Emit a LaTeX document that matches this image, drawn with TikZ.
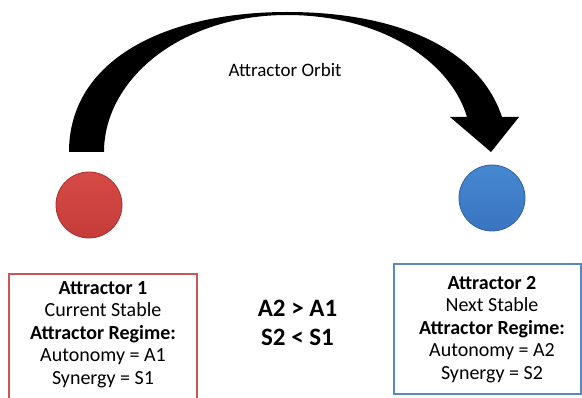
\documentclass[tikz,border=0pt]{standalone}
\usepackage{fontspec}
\setmainfont{Carlito}
\usetikzlibrary{positioning}

\definecolor{ballredtop}{RGB}{214,74,70}
\definecolor{ballredbot}{RGB}{196,60,57}
\definecolor{ballredrim}{RGB}{170,48,46}
\definecolor{ballbluetop}{RGB}{70,136,210}
\definecolor{ballbluebot}{RGB}{58,116,192}
\definecolor{ballbluerim}{RGB}{46,96,164}
\definecolor{boxred}{RGB}{200,88,85}
\definecolor{boxblue}{RGB}{90,136,196}

\begin{document}
\begin{tikzpicture}[x=1pt, y=-1pt,
    ball/.style={circle, minimum size=66pt, inner sep=0pt, line width=0.8pt},
    regimebox/.style={draw, line width=2pt, anchor=north, inner sep=0pt},
    regimetext/.style={align=center, anchor=base, inner sep=0pt, font=\fontsize{20}{22.5}\selectfont},
    compare/.style={align=center, anchor=base, inner sep=0pt, font=\bfseries\fontsize{25}{29}\selectfont}]
    \useasboundingbox (0,0) rectangle (582,398);

    % the orbit arrow
    \fill[black] (69,152) .. controls (69,60) and (165,12) .. (287,12)
        .. controls (400,12) and (480,50) .. (502,117) -- (519,117) -- (491,152)
        -- (450,117) -- (467,117) .. controls (450,60) and (380,15) .. (287,15)
        .. controls (180,15) and (104,80) .. (104,152) -- cycle;
    \node[anchor=base, inner sep=0pt, font=\fontsize{19}{22}\selectfont] (orbit) at (285,77) {Attractor Orbit};

    % the two attractors
    \node[ball, top color=ballredtop, bottom color=ballredbot, draw=ballredrim] (red) at (89,205) {};
    \node[ball, top color=ballbluetop, bottom color=ballbluebot, draw=ballbluerim] (blue) at (492,198) {};

    % regimes (base = last line)
    \node[regimebox, draw=boxred, minimum width=188pt, minimum height=140pt] (box1) at (103,273) {};
    \node[regimetext] (text1) at (103,384.5) {\textbf{Attractor 1}\\Current Stable\\\textbf{Attractor Regime:}\\Autonomy = A1\\Synergy = S1};

    \node[regimebox, draw=boxblue, minimum width=187pt, minimum height=130pt] (box2) at (487.5,263) {};
    \node[regimetext] (text2) at (492,379.5) {\textbf{Attractor 2}\\Next Stable\\\textbf{Attractor Regime:}\\Autonomy = A2\\Synergy = S2};

    \node[compare] (cmp) at (297.5,346) {A2 > A1\\S2 < S1};
\end{tikzpicture}
\end{document}
